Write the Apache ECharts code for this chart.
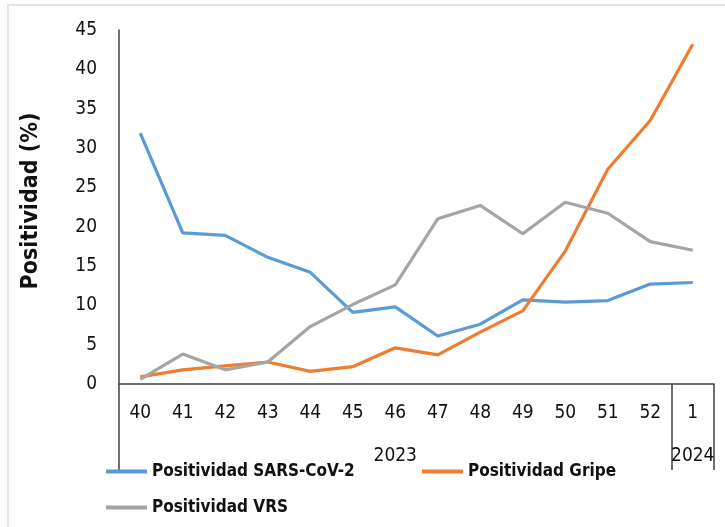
<!DOCTYPE html>
<html>
<head>
<meta charset="utf-8">
<script src="https://cdn.jsdelivr.net/npm/echarts@6/dist/echarts.min.js"></script>
<style>
html,body{margin:0;padding:0;background:#fff;}
#chart{width:725px;height:527px;}
</style>
</head>
<body>
<div id="chart"></div>
<script>
const weeks = ['40','41','42','43','44','45','46','47','48','49','50','51','52','1'];
const years = [{label:'2023', center:6.5}, {label:'2024', center:13.5}];
const yearBoundaries = [0, 13, 14];
const sarsCov2 = [31.9, 19.2, 18.9, 16.1, 14.2, 9.1, 9.8, 6.1, 7.6, 10.7, 10.4, 10.6, 12.7, 12.9];
const gripe = [0.9, 1.8, 2.3, 2.8, 1.6, 2.2, 4.6, 3.7, 6.6, 9.3, 16.9, 27.3, 33.5, 43.2];
const vrs = [0.6, 3.8, 1.8, 2.8, 7.3, 10.1, 12.6, 21.0, 22.7, 19.1, 23.1, 21.7, 18.1, 17.0];
const seriesNames = ['Positividad SARS-CoV-2', 'Positividad Gripe', 'Positividad VRS'];
const yTitle = 'Positividad (%)';

const FONT = "'DejaVu Sans Condensed', 'Liberation Sans', sans-serif";
const colors = ['#5B9BD5', '#ED7D31', '#A5A5A5'];

const chart = echarts.init(document.getElementById('chart'), null, {renderer: 'canvas'});

function legendFor(i, left, top) {
  return {
    data: [seriesNames[i]],
    left: left, top: top,
    icon: 'rect', itemWidth: 41, itemHeight: 4, itemGap: 5,
    textStyle: {fontFamily: FONT, fontSize: 17, fontWeight: 'bold', color: '#111', padding: [0,0,0,0]},
    padding: 0
  };
}

chart.setOption({
  animation: false,
  backgroundColor: '#fff',
  graphic: [{
    type: 'rect', shape: {x: 8, y: 5, width: 740, height: 540},
    style: {fill: 'none', stroke: '#e4e4e4', lineWidth: 2}, silent: true
  }],
  grid: {left: 119, right: 11, top: 30, bottom: 143, containLabel: false},
  legend: [legendFor(0, 106, 463), legendFor(1, 422, 463), legendFor(2, 106, 499)],
  xAxis: [{
    type: 'category',
    data: weeks,
    boundaryGap: true,
    axisLine: {show: true, lineStyle: {color: '#404040', width: 1.5}},
    axisTick: {
      show: true, length: 86, lineStyle: {color: '#404040', width: 1.5},
      interval: function (i) { return yearBoundaries.indexOf(i) >= 0; }
    },
    axisLabel: {fontFamily: FONT, fontSize: 19, color: '#111', margin: 20, interval: 0},
    splitLine: {show: false}
  }, {
    type: 'value',
    position: 'bottom',
    min: 0, max: weeks.length, interval: 0.5,
    axisLine: {show: false}, axisTick: {show: false}, splitLine: {show: false},
    axisLabel: {
      fontFamily: FONT, fontSize: 19, color: '#111', margin: 63,
      showMinLabel: false, showMaxLabel: false,
      formatter: function (v) {
        const y = years.find(function (o) { return Math.abs(o.center - v) < 1e-6; });
        return y ? y.label : '';
      }
    }
  }],
  yAxis: {
    type: 'value', min: 0, max: 45, interval: 5,
    name: yTitle, nameLocation: 'middle', nameRotate: 90, nameGap: 76,
    nameTextStyle: {fontFamily: FONT, fontSize: 23, fontWeight: 'bold', color: '#111', padding: [0, 0, 0, 12]},
    axisLine: {show: true, lineStyle: {color: '#404040', width: 1.5}},
    axisTick: {show: false},
    splitLine: {show: false},
    axisLabel: {fontFamily: FONT, fontSize: 19, color: '#111', margin: 22}
  },
  series: [sarsCov2, gripe, vrs].map(function (d, i) {
    return {
      name: seriesNames[i], type: 'line', data: d, xAxisIndex: 0,
      symbol: 'none', lineStyle: {width: 3.2, color: colors[i]},
      itemStyle: {color: colors[i]}
    };
  })
});
</script>
</body>
</html>
